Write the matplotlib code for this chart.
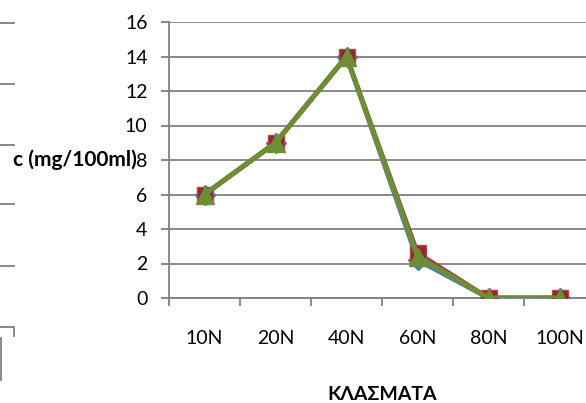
import matplotlib
matplotlib.use("Agg")
import matplotlib.pyplot as plt
from matplotlib.lines import Line2D

plt.rcParams['font.family'] = ['Lato', 'DejaVu Sans']

categories = ["10N", "20N", "40N", "60N", "80N", "100N"]
series_blue = [6, 9, 14, 2.2, 0, 0]
series_red = [6, 9, 14, 2.6, 0, 0]
series_green = [6, 9, 14, 2.4, 0, 0]
y_ticks = [0, 2, 4, 6, 8, 10, 12, 14, 16]

W, H = 586.0, 403.0
fig = plt.figure(figsize=(5.86, 4.03), dpi=100)
ax = fig.add_axes([169/W, 105/H, 426/W, 276/H])

x = list(range(len(categories)))
ax.plot(x, series_blue, color='#4A7EBB', lw=3.4, marker='D', ms=10, mfc='#4A7EBB', mec='#4A7EBB', zorder=3)
ax.plot(x, series_red, color='#A0403D', lw=3.4, marker='s', ms=12, mfc='#8E2A2A', mec='#B04848', zorder=4)
ax.plot(x, series_green, color='#6E8E35', lw=3.6, marker='^', ms=13, mfc='#6E8E35', mec='#6E8E35', zorder=5)

ax.set_xlim(-0.5, 5.5)
ax.set_ylim(0, 16)
ax.set_yticks(y_ticks)
ax.set_yticklabels([str(v) for v in y_ticks])
ax.set_xticks(x)
ax.set_xticklabels(categories)
ax.set_xticks([i - 0.5 for i in range(len(categories) + 1)], minor=True)

ax.grid(axis='y', color='#808080', lw=1.3)
ax.set_axisbelow(True)
for s in ['top', 'right']:
    ax.spines[s].set_visible(False)
for s in ['left', 'bottom']:
    ax.spines[s].set_color('#808080')
    ax.spines[s].set_linewidth(1.3)

ax.tick_params(axis='y', direction='out', length=5.5, width=1.3, color='#808080', pad=10, labelsize=14)
ax.tick_params(axis='x', which='major', length=0, pad=23, labelsize=14)
ax.tick_params(axis='x', which='minor', direction='out', length=5.5, width=1.3, color='#808080')

fig.text(137/W, 1 - 160/H, 'c (mg/100ml)', fontsize=15, fontweight='bold', ha='right', va='center')
fig.text(382/W, 1 - 394/H, 'ΚΛΑΣΜΑΤΑ', fontsize=14, fontweight='bold', ha='center', va='center')

# fragments of the neighbouring chart at the left edge
for yy in [23, 84, 145, 204, 266]:
    fig.add_artist(Line2D([0, 14/W], [1 - yy/H, 1 - yy/H], color='#808080', lw=1.3))
fig.add_artist(Line2D([0, 14/W, 14/W], [1 - 327/H, 1 - 327/H, 1 - 336/H], color='#808080', lw=1.3))
fig.add_artist(Line2D([1/W, 1/W], [1 - 338/H, 1 - 380/H], color='#808080', lw=1.3))

fig.savefig('out.png', dpi=100)
